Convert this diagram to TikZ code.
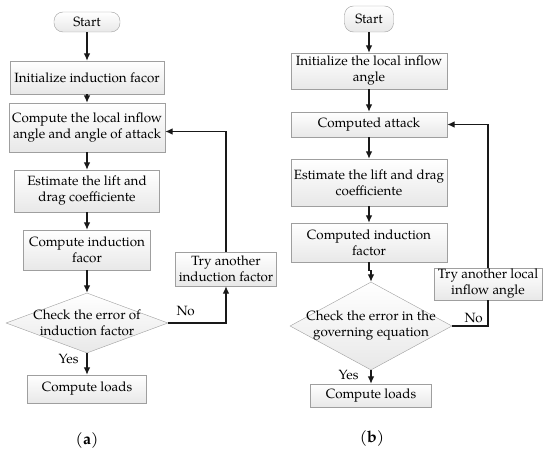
\documentclass[tikz,border=0pt]{standalone}
\usepackage{fontspec}
\setmainfont{TeX Gyre Pagella}
\usepackage{tikz}
\usetikzlibrary{shapes.geometric,arrows.meta}
\tikzset{stepbox/.style={draw=gray!75,top color=white,bottom color=gray!18,
        align=center,inner sep=1pt},
    startbox/.style={stepbox,rounded corners=9pt},
    decision/.style={diamond,draw=gray!75,top color=white,bottom color=gray!18,
        inner sep=0pt},
    flowline/.style={draw=black!90,line width=1.1pt},
    flow/.style={flowline,-{Latex[length=7.5pt,width=6.5pt]}},
    answer/.style={inner sep=1pt},
    sublabel/.style={font=\fontsize{16}{19}\selectfont}}

\begin{document}
\begin{tikzpicture}[x=1pt,y=-1pt,font=\fontsize{13.4}{16}\selectfont]
    \useasboundingbox (0,0) rectangle (550,452);
    % (a)
    \node[startbox,minimum width=66pt,minimum height=20pt] (startA) at (87,22) {Start};
    \node[stepbox,minimum width=154pt,minimum height=33pt] (initA) at (87,77.5)
        {Initialize induction facor};
    \node[stepbox,minimum width=156pt,minimum height=49pt] (inflowA) at (87,127.5)
        {Compute the local inflow\\angle and angle of attack};
    \node[stepbox,minimum width=145pt,minimum height=42pt] (liftA) at (87,191)
        {Estimate the lift and\\drag coefficiente};
    \node[stepbox,minimum width=127pt,minimum height=40pt] (indA) at (87,250)
        {Compute induction\\facor};
    \node[decision,minimum width=162pt,minimum height=60pt,
        label={[align=center]center:Check the error of\\induction factor}] (checkA) at (87,323) {};
    \node[stepbox,minimum width=119pt,minimum height=28pt] (loadsA) at (87,389)
        {Compute loads};
    \node[stepbox,minimum width=101pt,minimum height=34pt] (tryA) at (226,269)
        {Try another\\induction factor};
    \node[sublabel] (labA) at (87,440) {(\textbf{a})};

    \draw[flow] (startA) -- (initA);
    \draw[flow] (initA) -- (inflowA);
    \draw[flow] (inflowA) -- (liftA);
    \draw[flow] (liftA) -- (indA);
    \draw[flow] (indA) -- (checkA);
    \draw[flow] (checkA) -- node[answer,pos=0.27,left=7pt] {Yes} (loadsA);
    \draw[flow] (checkA.east) -| node[answer,pos=0.15,above=6pt] {No} (tryA.south);
    \draw[flow] (tryA.north) |- ([yshift=-4pt]inflowA.east);

    % (b)
    \node[startbox,minimum width=49pt,minimum height=26pt] (startB) at (369,19) {Start};
    \node[stepbox,minimum width=156pt,minimum height=36pt] (initB) at (369,71)
        {Initialize the local inflow\\angle};
    \node[stepbox,minimum width=156pt,minimum height=25pt] (attackB) at (369,124.5)
        {Computed attack};
    \node[stepbox,minimum width=156pt,minimum height=47pt] (liftB) at (369,182.5)
        {Estimate the lift and drag\\coefficiente};
    \node[stepbox,minimum width=156pt,minimum height=39pt] (indB) at (369,242.5)
        {Computed induction\\factor};
    \node[decision,minimum width=162pt,minimum height=88pt,
        label={[align=center]center:Check the error in the\\governing equation}] (checkB) at (371,326) {};
    \node[stepbox,minimum width=121pt,minimum height=23pt] (loadsB) at (371,395.5)
        {Compute loads};
    \node[stepbox,minimum width=108pt,minimum height=32pt] (tryB) at (488,284)
        {Try another local\\inflow angle};
    \node[sublabel] (labB) at (372,438) {(\textbf{b})};

    \draw[flow] (startB) -- (initB);
    \draw[flow] (initB) -- (attackB);
    \draw[flow] (attackB) -- (liftB);
    \draw[flow] (liftB) -- (indB);
    \draw[flow] (indB.south) -- ++(0,8) -| (checkB.north);
    \draw[flow] (checkB) -- node[answer,pos=0.35,left=11pt] {Yes} (loadsB);
    \draw[flowline] (checkB.east) -| node[answer,pos=0.3,above=2pt] {No} (tryB.south);
    \draw[flow] (tryB.north) |- (attackB.east);
\end{tikzpicture}
\end{document}
